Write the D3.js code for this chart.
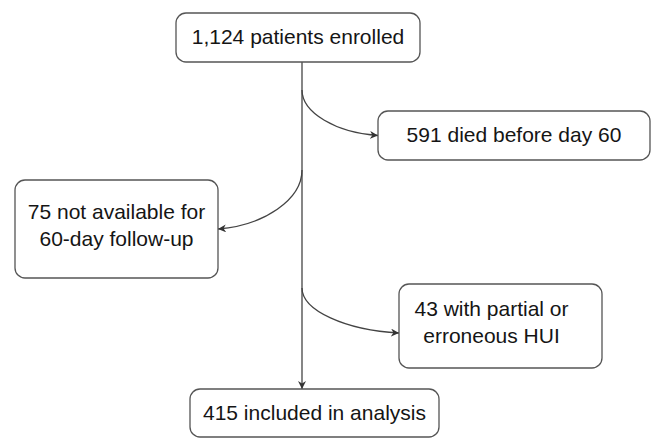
<!DOCTYPE html>
<html>
  <head>
    <meta charset="utf-8">
    <title>Flow</title>
    <script src="https://cdn.jsdelivr.net/npm/d3@7"></script>
    <style>
      body { margin: 0; background: #fff; }
      text { font-family: "Liberation Sans", Arial, sans-serif; font-size: 21px; fill: #151515; }
    </style>
  </head>
  <body>
    <svg id="chart" width="654" height="440"></svg>
    <script>
      // box texts (one array item per line)
      var mainLabels = [["1,124 patients enrolled"], ["415 included in analysis"]];
      var exitLabels = [["591 died before day 60"], ["75 not available for", "60-day follow-up"], ["43 with partial or", "erroneous HUI"]];
      var exitSide = ["right", "left", "right"];

      // layout in pixels
      var mainBoxes = [{x:176, y:13, w:244, h:49}, {x:190, y:389, w:249, h:48}];
      var exitBoxes = [{x:378, y:111, w:272, h:49}, {x:15, y:180, w:203, h:98}, {x:399, y:284, w:203, h:84, dx:-9}];
      var branchY = [90, 170, 288];
      var spineX = 302;

      var svg = d3.select("#chart");

      svg.append("defs").append("marker")
        .attr("id", "arrow")
        .attr("viewBox", "0 0 10 10")
        .attr("refX", 10).attr("refY", 5)
        .attr("markerWidth", 8).attr("markerHeight", 8)
        .attr("markerUnits", "userSpaceOnUse")
        .attr("orient", "auto")
        .append("path")
        .attr("d", "M0,0 L10,5 L0,10 L3,5 Z")
        .attr("fill", "#333");

      // vertical spine
      svg.append("line")
        .attr("x1", spineX).attr("y1", mainBoxes[0].y + mainBoxes[0].h)
        .attr("x2", spineX).attr("y2", mainBoxes[1].y)
        .attr("stroke", "#444").attr("stroke-width", 1.3)
        .attr("marker-end", "url(#arrow)");

      // branch curves (arc-like bends)
      exitBoxes.forEach(function(b, i) {
        var tx = exitSide[i] == "right" ? b.x : b.x + b.w;
        var ty = b.y + b.h / 2 + (i == 2 ? 7 : 0);
        var y0 = branchY[i];
        var dx = tx - spineX, dy = ty - y0;
        var p = d3.path();
        p.moveTo(spineX, y0);
        p.bezierCurveTo(spineX, y0 + dy * 0.5,
                        tx - dx * 0.55, ty - dy * 0.06,
                        tx, ty);
        svg.append("path")
          .attr("d", p.toString())
          .attr("fill", "none")
          .attr("stroke", "#444").attr("stroke-width", 1.3)
          .attr("marker-end", "url(#arrow)");
      });

      function drawBox(b, lines) {
        var g = svg.append("g");
        g.append("rect")
          .attr("x", b.x).attr("y", b.y)
          .attr("width", b.w).attr("height", b.h)
          .attr("rx", 10).attr("ry", 10)
          .attr("fill", "#fff")
          .attr("stroke", "#555").attr("stroke-width", 1.3);
        var lh = 27;
        var shift = lines.length > 1 ? 3.5 : 6.5;
        var top = b.y + b.h / 2 - (lines.length - 1) * lh / 2 + shift;
        g.selectAll("text").data(lines).enter().append("text")
          .attr("x", b.x + b.w / 2 + (b.dx || 0))
          .attr("y", function(d, i) { return top + i * lh; })
          .attr("text-anchor", "middle")
          .text(function(d) { return d; });
      }

      mainBoxes.forEach(function(b, i) { drawBox(b, mainLabels[i]); });
      exitBoxes.forEach(function(b, i) { drawBox(b, exitLabels[i]); });
    </script>
  </body>
</html>
